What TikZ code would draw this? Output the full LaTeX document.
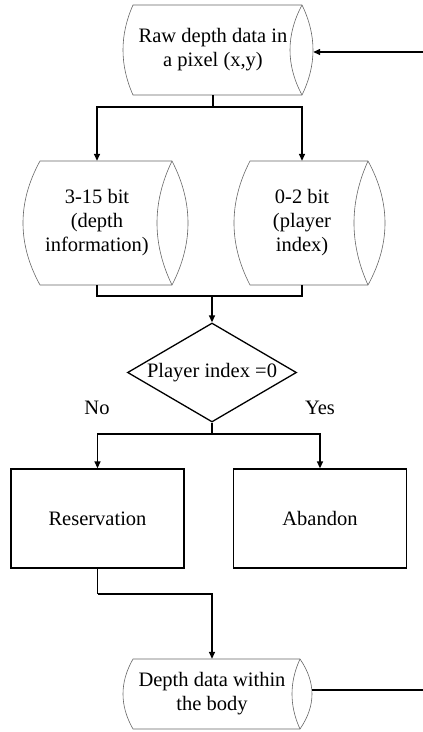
\documentclass[tikz,border=0pt]{standalone}
\usepackage{fontspec}
\setmainfont{Liberation Serif}
\usetikzlibrary{arrows.meta,shapes.geometric,calc}

% Outline of a horizontal drum (stored-data symbol):
% #1 left x, #2 right x, #3 top y, #4 bottom y,
% #5 bulge of the left arc, #6 outer bulge of the lens, #7 inner bulge of the lens
\newcommand\drumoutline[7]{%
  \pgfmathsetmacro\drumH{(#4-#3)/3}%
  \pgfmathsetmacro\drumA{4*#5/3}%
  \pgfmathsetmacro\drumB{4*#6/3}%
  \pgfmathsetmacro\drumC{4*#7/3}%
  \draw[drumline] (#1,#3) -- (#2,#3)
    .. controls +(\drumB,\drumH) and +(\drumB,-\drumH) .. (#2,#4)
    -- (#1,#4)
    .. controls +(-\drumA,-\drumH) and +(-\drumA,\drumH) .. cycle;
  \draw[drumline] (#2,#3)
    .. controls +(-\drumC,\drumH) and +(-\drumC,-\drumH) .. (#2,#4);
}

\begin{document}
\begin{tikzpicture}[x=1pt,y=-1pt,
  every node/.style={font=\fontsize{20.5}{24}\selectfont},
  drumline/.style={draw=black!60,line width=0.6pt},
  drumtext/.style={align=center,inner sep=0pt},
  procbox/.style={draw,line width=1.3pt,minimum width=173pt,minimum height=99pt,inner sep=0pt},
  decision/.style={draw,line width=1.3pt,diamond,minimum width=169pt,minimum height=99pt,inner sep=0pt},
  conn/.style={line width=1.4pt},
  flow/.style={conn,-{Triangle[length=7pt,width=6pt]}}]

\useasboundingbox (0,0) rectangle (423,732);

% drum outlines
\drumoutline{133}{302}{5}{95}{10}{11}{12}
\drumoutline{40}{172}{161}{285}{17}{16}{15}
\drumoutline{250}{368}{161}{285}{16}{17}{14}
\drumoutline{133}{300}{659}{729}{10}{12}{8}

% nodes
\node[drumtext,minimum height=90pt,minimum width=200pt] (raw) at (213,50)
  {Raw depth data in\\a pixel (x,y)};
\node[drumtext,minimum height=124pt] (depth) at (97,223)
  {3-15 bit\\(depth\\information)};
\node[drumtext,minimum height=124pt] (player) at (302,223)
  {0-2 bit\\(player\\index)};
\node[decision] (dec) at (212,372.5) {};
\node[inner sep=0pt] (dectext) at (dec.center) {Player index =0};
\node (no) at (97,408) {No};
\node (yes) at (320,408) {Yes};
\node[procbox] (keep) at (97.5,518.5) {Reservation};
\node[procbox] (drop) at (320,518.5) {Abandon};
\node[drumtext,minimum height=70pt,minimum width=200pt] (body) at (212,694)
  {Depth data within\\the body};

% free ends at the right edge
\coordinate (feedin) at (423,52);
\coordinate (feedout) at (423,690);
\coordinate (split) at (213,107);
\coordinate (join) at (212,296);
\coordinate (branch) at (212,434);
\coordinate (merge) at (97.5,594);

% connectors
\draw[flow] (feedin) -- (raw.east |- feedin);
\draw[conn] (raw.south) -- (split);
\draw[flow] (split) -| (depth.north);
\draw[flow] (split) -| (player.north);
\draw[conn] (depth.south) |- (join) -| (player.south);
\draw[flow] (join) -- (dec.north);
\draw[conn] (dec.south) -- (branch);
\draw[flow] (branch) -| (keep.north);
\draw[flow] (branch) -| (drop.north);
\draw[conn] (keep.south) -- (merge);
\draw[flow] (merge) -| (body.north);
\draw[conn] (body.east |- feedout) -- (feedout);

\end{tikzpicture}
\end{document}
